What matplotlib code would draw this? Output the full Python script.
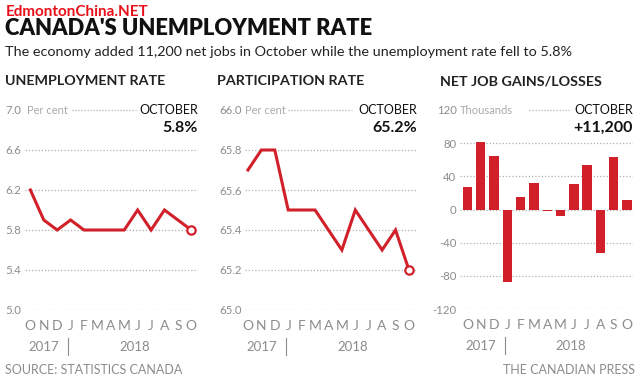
import numpy as np
import matplotlib
matplotlib.use('Agg')
import matplotlib.pyplot as plt

plt.rcParams['font.family'] = ['Lato', 'DejaVu Sans']

months = ['O', 'N', 'D', 'J', 'F', 'M', 'A', 'M', 'J', 'J', 'A', 'S', 'O']
unemployment = [6.2, 5.9, 5.8, 5.9, 5.8, 5.8, 5.8, 5.8, 6.0, 5.8, 6.0, 5.9, 5.8]
participation = [65.7, 65.8, 65.8, 65.5, 65.5, 65.5, 65.4, 65.3, 65.5, 65.4, 65.3, 65.4, 65.2]
net_jobs = [27, 81, 65, -88, 15, 32, -1.5, -7.5, 31, 54, -52, 63, 11.2]

unemp_ticks = [5.0, 5.4, 5.8, 6.2, 6.6, 7.0]
part_ticks = [65.0, 65.2, 65.4, 65.6, 65.8, 66.0]
jobs_ticks = [-120, -80, -40, 0, 40, 80, 120]

RED = '#d2202a'
GRAY = '#8c8c8c'
W, H = 640, 383


def px_rect(left, top, right, bottom):
    return [left / W, 1 - bottom / H, (right - left) / W, (bottom - top) / H]


fig = plt.figure(figsize=(6.4, 3.83), dpi=100)

# headings
fig.text(5 / W, 1 - 28.5 / H, "CANADA'S UNEMPLOYMENT RATE", color='#111111',
         fontsize=15.8, fontweight='heavy', va='center', ha='left')
fig.text(6 / W, 1 - 12.5 / H, 'EdmontonChina.NET', color='#e8101a', fontsize=11,
         fontweight='bold', va='center', ha='left')
fig.text(5 / W, 1 - 52 / H,
         'The economy added 11,200 net jobs in October while the unemployment rate fell to 5.8%',
         color='#222222', fontsize=10.4, va='center', ha='left')


def style_axes(ax, ticks, fmt, title, tx, ux, header_unit, dots, big):
    for s in ax.spines.values():
        s.set_visible(False)
    ax.set_yticks(ticks)
    ax.set_yticklabels([fmt(t) for t in ticks])
    ax.set_ylim(ticks[0], ticks[-1])
    ax.grid(axis='y', linestyle=(0, (1, 1.6)), color='#b0b0b0', linewidth=0.9)
    ax.get_ygridlines()[-1].set_visible(False)
    ax.set_axisbelow(True)
    ax.tick_params(axis='y', length=0, pad=2.5, labelsize=8.2, labelcolor=GRAY)
    ax.set_xticks(range(len(months)))
    ax.set_xticklabels(months)
    ax.tick_params(axis='x', length=0, pad=7, labelsize=10, labelcolor=GRAY)
    ax.text(tx, 1.0 + 29 / 200, title, transform=ax.transAxes, fontsize=10.3,
            fontweight='bold', color='#222222', va='center', ha='left')
    ax.text(ux, 1.0, header_unit, transform=ax.transAxes, fontsize=8,
            color='#aaaaaa', va='center', ha='left')
    ax.plot(dots, [1.0, 1.0], transform=ax.transAxes, linestyle=(0, (1, 1.4)),
            color='#b0b0b0', linewidth=0.9, clip_on=False)
    ax.text(1.0, 1.0, 'OCTOBER', transform=ax.transAxes, fontsize=9,
            color='#111111', va='center', ha='right')
    ax.text(1.0, 1.0 - 18 / 200, big, transform=ax.transAxes, fontsize=11.5,
            fontweight='bold', color='#111111', va='center', ha='right')
    # year labels
    tr = ax.get_xaxis_transform()
    ax.text(1, -0.185, '2017', transform=tr, fontsize=9.5,
            color=GRAY, va='center', ha='center')
    ax.plot([2.8, 2.8], [-0.14, -0.225], transform=tr, color=GRAY,
            linewidth=0.8, clip_on=False)
    ax.text(7.8, -0.185, '2018', transform=tr, fontsize=9.5,
            color=GRAY, va='center', ha='center')


x = np.arange(len(months))

# unemployment
ax1 = fig.add_axes(px_rect(25, 110, 198, 310))
ax1.plot(x, unemployment, color=RED, linewidth=2.2, solid_joinstyle='miter')
ax1.plot(x[-1], unemployment[-1], 'o', markersize=6, markerfacecolor='white',
         markeredgecolor=RED, markeredgewidth=1.6)
ax1.set_xlim(-0.4, 12.5)
style_axes(ax1, unemp_ticks, lambda t: f'{t:.1f}', 'UNEMPLOYMENT RATE', -0.115,
           0.01, 'Per cent', [0.27, 0.64], '5.8%')

# participation
ax2 = fig.add_axes(px_rect(245, 110, 417, 310))
ax2.plot(x, participation, color=RED, linewidth=2.2, solid_joinstyle='miter')
ax2.plot(x[-1], participation[-1], 'o', markersize=6, markerfacecolor='white',
         markeredgecolor=RED, markeredgewidth=1.6)
ax2.set_xlim(-0.22, 12.6)
style_axes(ax2, part_ticks, lambda t: f'{t:.1f}', 'PARTICIPATION RATE', -0.163,
           0.0, 'Per cent', [0.25, 0.62], '65.2%')

# net jobs
ax3 = fig.add_axes(px_rect(460, 110, 633, 309))
ax3.bar(x, net_jobs, width=0.71, color=RED)
ax3.set_xlim(-0.56, 12.45)
style_axes(ax3, jobs_ticks, lambda t: f'{t:d}', 'NET JOB GAINS/LOSSES', -0.115,
           0.0, 'Thousands', [0.4, 0.63], '+11,200')

fig.text(5 / W, 1 - 370 / H, 'SOURCE: STATISTICS CANADA', color=GRAY,
         fontsize=9, va='center', ha='left')
fig.text(635 / W, 1 - 370 / H, 'THE CANADIAN PRESS', color=GRAY,
         fontsize=9, va='center', ha='right')

fig.savefig('out.png', dpi=100)
